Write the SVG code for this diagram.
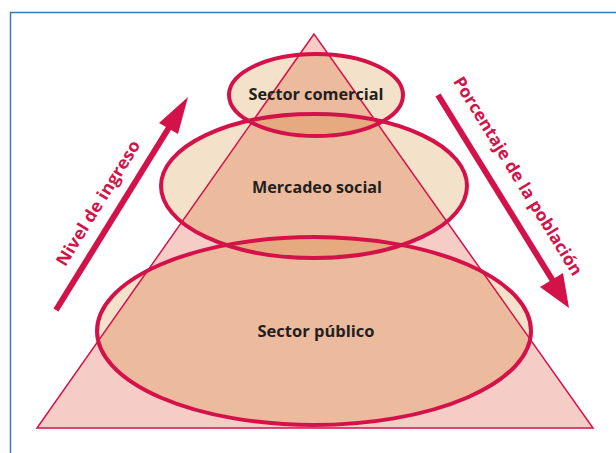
<svg xmlns="http://www.w3.org/2000/svg" width="616" height="453" viewBox="0 0 616 453">
<style>
.lbl{font-family:"Open Sans","Liberation Sans",sans-serif;font-weight:bold;fill:#231f20;text-anchor:middle;font-size:16px}
.side{font-family:"Open Sans","Liberation Sans",sans-serif;font-weight:bold;fill:#d4124a;text-anchor:middle;font-size:17px}
.ring{fill:none;stroke:#d4124a;stroke-width:4}
</style>
<defs>
<clipPath id="tri"><polygon points="314,34 37,428 593,428"/></clipPath>
<clipPath id="eTop"><ellipse cx="316" cy="95" rx="87" ry="41"/></clipPath>
<clipPath id="eMid"><ellipse cx="314" cy="186" rx="153" ry="72"/></clipPath>
</defs>
<rect width="616" height="453" fill="#ffffff"/>
<path d="M10.5,453 V12.5 H616" fill="none" stroke="#3a77bd" stroke-width="1.5"/>
<g id="fills">
<polygon points="314,34 37,428 593,428" fill="#f6cdc6"/>
<ellipse cx="314" cy="331" rx="217" ry="94" fill="#f3e1c9"/>
<ellipse cx="314" cy="186" rx="153" ry="72" fill="#f3e1c9"/>
<ellipse cx="316" cy="95" rx="87" ry="41" fill="#f3e1c9"/>
<g clip-path="url(#tri)">
<ellipse cx="314" cy="331" rx="217" ry="94" fill="#ecbb9e"/>
<ellipse cx="314" cy="186" rx="153" ry="72" fill="#ecbb9e"/>
<ellipse cx="316" cy="95" rx="87" ry="41" fill="#ecbb9e"/>
<ellipse cx="314" cy="186" rx="153" ry="72" fill="#e6aa80" clip-path="url(#eTop)"/>
<ellipse cx="314" cy="331" rx="217" ry="94" fill="#e6aa80" clip-path="url(#eMid)"/>
</g>
</g>
<g id="triangle"><polygon points="314,34 37,428 593,428" fill="none" stroke="#d4124a" stroke-width="1.5"/></g>
<g id="node-publico"><ellipse class="ring" cx="314" cy="331" rx="217" ry="94"/><text class="lbl" x="316" y="337" textLength="117" lengthAdjust="spacingAndGlyphs">Sector público</text></g>
<g id="node-mercadeo"><ellipse class="ring" cx="314" cy="186" rx="153" ry="72"/><text class="lbl" x="317" y="193" textLength="130" lengthAdjust="spacingAndGlyphs">Mercadeo social</text></g>
<g id="node-comercial"><ellipse class="ring" cx="316" cy="95" rx="87" ry="41"/><text class="lbl" x="316" y="100" textLength="135" lengthAdjust="spacingAndGlyphs">Sector comercial</text></g>
<g id="connectors">
<line x1="56" y1="310" x2="178" y2="113" stroke="#d4124a" stroke-width="6"/>
<polygon points="188,97 159,123 178,134" fill="#d4124a"/>
<line x1="438" y1="95" x2="558" y2="289" stroke="#d4124a" stroke-width="6"/>
<polygon points="569,308 540,287 563,273" fill="#d4124a"/>
</g>
<g id="side-labels">
<text class="side" transform="translate(98,203) rotate(-58.3)" y="6" textLength="144" lengthAdjust="spacingAndGlyphs">Nivel de ingreso</text>
<text class="side" transform="translate(518,176) rotate(58.4)" y="6" textLength="230" lengthAdjust="spacingAndGlyphs">Porcentaje de la población</text>
</g>
</svg>
